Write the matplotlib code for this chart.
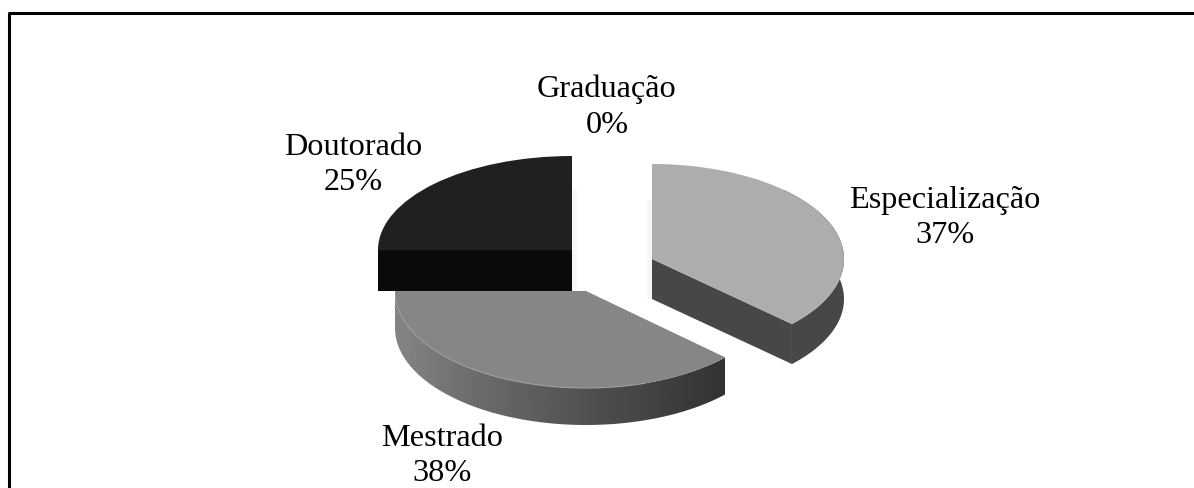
import numpy as np
import matplotlib
matplotlib.use("Agg")
import matplotlib.pyplot as pl
from matplotlib.patches import Polygon

categories = ["Especialização", "Mestrado", "Doutorado", "Graduação"]
shares = [37, 38, 25, 0]

W, H = 1194, 488
RX, RY = 194.0, 95.0  # pixels per pie radius


def px(x, y):
    return x / RX, (H - y) / RY


def arc(center, share_from, share_to, radius_x, radius_y, n=80):
    # clockwise from twelve o'clock, in share percent
    a = np.radians(np.linspace(share_from, share_to, n) * 3.6)
    return center[0] + radius_x * np.sin(a), center[1] - radius_y * np.cos(a)


def draw_top(ax, i, center, rx, ry, color, z):
    wedges, _ = ax.pie(shares, center=px(*center), radius=1.0, startangle=90,
                       counterclock=False, colors=[color] * len(shares))
    for j, w in enumerate(wedges):
        if j != i:
            w.remove()
        else:
            w.set_zorder(z)
            w.set_transform(
                matplotlib.transforms.Affine2D()
                .translate(-w.center[0], -w.center[1])
                .scale(rx / RX, ry / RY)
                .translate(*w.center) + ax.transData)
            w.set_edgecolor("none")


def rim_polygon(center, s0, s1, rx, ry, depth):
    x, y = arc(center, s0, s1, rx, ry)
    pts = np.column_stack([x, y])
    low = np.column_stack([x, y + depth])[::-1]
    return np.vstack([pts, low])


def to_data(pts):
    return np.column_stack([pts[:, 0] / RX, (H - pts[:, 1]) / RY])


def add_shadow(ax, x0, x1, y0, y1):
    box = np.array([[x0, y0], [x1, y0], [x1, y1], [x0, y1]])
    ax.add_patch(Polygon(to_data(box), closed=True, fc="#f7f7f7", ec="none", zorder=1))


fig = pl.figure(figsize=(W / 100, H / 100), dpi=100, facecolor="white")
ax = fig.add_axes([0, 0, 1, 1])

cum = np.cumsum([0] + shares)

# Mestrado, rim with gradient running left to right
c_m = (586, 291)
rx_m, ry_m, d_m = 191, 97, 37
poly = rim_polygon(c_m, cum[1], cum[2], rx_m, ry_m, d_m)
patch = Polygon(to_data(poly), closed=True, facecolor="none", edgecolor="none")
ax.add_patch(patch)
stops = np.interp(np.linspace(0, 1, 256), [0, 0.25, 0.6, 1.0],
                  [0.52, 0.42, 0.31, 0.20]).reshape(1, -1)
im = ax.imshow(stops, cmap="gray", vmin=0, vmax=1, aspect="auto", zorder=2,
               extent=[395 / RX, 725 / RX, 0, H / RY])
im.set_clip_path(patch)
draw_top(ax, 1, c_m, rx_m, ry_m, "#868686", 3)
x, y = arc(c_m, cum[1] + 8, cum[2] - 3, rx_m, ry_m)
ax.plot(x / RX, (H - y) / RY, color="#9c9c9c", lw=0.8, zorder=4)

# Especialização, pulled away to the right
c_e = (652, 259)
rx_e, ry_e, d_e = 192, 95, 40
add_shadow(ax, c_e[0] - 5, c_e[0], c_e[1] - 60, c_e[1] + d_e)
ax.add_patch(Polygon(to_data(rim_polygon(c_e, 12, cum[1], rx_e, ry_e, d_e)),
                     closed=True, fc="#474747", ec="none", zorder=2))
tx, ty = arc(c_e, cum[1], cum[1], rx_e, ry_e, n=1)
cut = np.array([[c_e[0], c_e[1]], [tx[0], ty[0]],
                [tx[0], ty[0] + d_e], [c_e[0], c_e[1] + d_e]])
ax.add_patch(Polygon(to_data(cut), closed=True, fc="#474747", ec="none", zorder=2))
draw_top(ax, 0, c_e, rx_e, ry_e, "#adadad", 3)

# Doutorado, flat cut face in front
c_d = (572, 250)
rx_d, ry_d, d_d = 194, 94, 41
add_shadow(ax, c_d[0], c_d[0] + 5, c_d[1] - 60, c_d[1] + d_d)
cut = np.array([[c_d[0] - rx_d, c_d[1]], [c_d[0], c_d[1]],
                [c_d[0], c_d[1] + d_d], [c_d[0] - rx_d, c_d[1] + d_d]])
ax.add_patch(Polygon(to_data(cut), closed=True, fc="#0a0a0a", ec="none", zorder=5))
draw_top(ax, 2, c_d, rx_d, ry_d, "#202020", 6)

label_pos = [(945, 218), (442, 456), (353, 165), (607, 107)]
for name, share, (lx, ly) in zip(categories, shares, label_pos):
    ax.text(*px(lx, ly), f"{name}\n{share}%", family="Liberation Serif",
            fontsize=23.2, ha="center", va="center", linespacing=1.31,
            color="black", zorder=10)

ax.set_aspect("auto")
ax.set_xlim(0, W / RX)
ax.set_ylim(0, H / RY)
ax.axis("off")

# chart border: only top and left show, both run off the picture
fx = np.array([8.5, 8.5, W + 5]) / W
fy = 1 - np.array([H + 5, 13, 13]) / H
fig.add_artist(pl.Line2D(fx, fy, color="black", lw=2.2, transform=fig.transFigure))

fig.savefig("out.png", dpi=100)
